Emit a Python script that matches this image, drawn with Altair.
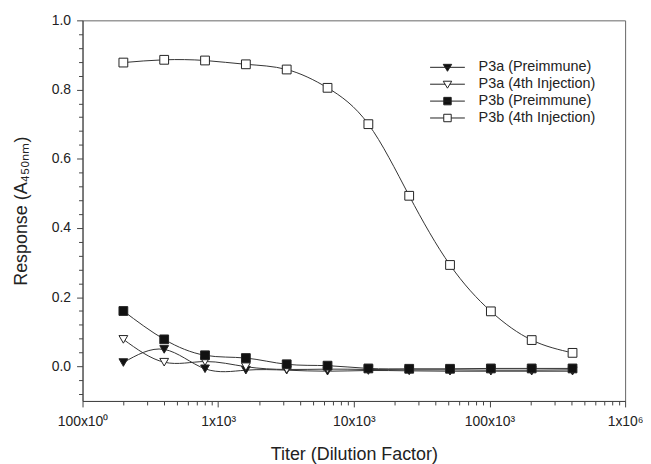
import altair as alt
import pandas as pd

# ---- data ----
titers = [200, 400, 800, 1600, 3200, 6400, 12800, 25600, 51200, 102400, 204800, 409600]
series_names = ["P3a (Preimmune)", "P3a (4th Injection)", "P3b (Preimmune)", "P3b (4th Injection)"]
p3a_pre = [0.011, 0.049, -0.007, -0.011, -0.011, -0.014, -0.012, -0.013, -0.014, -0.014, -0.014, -0.014]
p3a_4th = [0.078, 0.012, 0.014, -0.001, -0.009, -0.008, -0.009, -0.010, -0.010, -0.011, -0.011, -0.010]
p3b_pre = [0.160, 0.078, 0.032, 0.024, 0.006, 0.002, -0.006, -0.007, -0.007, -0.006, -0.006, -0.006]
p3b_4th = [0.878, 0.886, 0.884, 0.873, 0.858, 0.805, 0.700, 0.493, 0.293, 0.159, 0.076, 0.039]

decades = [100, 1000, 10000, 100000, 1000000]
decade_labels = ["100x10\u2070", "1x10\u00b3", "10x10\u00b3", "100x10\u00b3", "1x10\u2076"]
x_minor_mult = [1, 2, 3, 4, 5, 6, 7, 8, 9]
y_ticks = [round(-0.08 + 0.04 * i, 2) for i in range(28)]

rows = []
for name, vals in zip(series_names, [p3a_pre, p3a_4th, p3b_pre, p3b_4th]):
    for t, v in zip(titers, vals):
        rows.append({"titer": t, "response": v, "series": name})
df = pd.DataFrame(rows)

x_tick_values = [d * m for d in decades[:-1] for m in x_minor_mult] + [decades[-1]]
x_label_expr = "".join(f"datum.value == {d} ? '{l}' : " for d, l in zip(decades, decade_labels)) + "''"
x_major_test = "abs(log(datum.value)/LN10 - round(log(datum.value)/LN10)) < 0.001"
y_major_test = "abs(datum.value*5 - round(datum.value*5)) < 0.001"

FONT = "Liberation Sans"
TXT = "#222222"
AX = "#444444"

x_axis = alt.Axis(
    title="Titer (Dilution Factor)",
    values=x_tick_values,
    labelExpr=x_label_expr,
    labelOverlap=False,
    labelFlush=False,
    labelFontSize=14,
    labelPadding=8,
    tickSize={"condition": {"test": x_major_test, "value": 6}, "value": 4},
    titleFontSize=18,
    titleFontWeight="normal",
    titleBaseline="alphabetic",
    titleY=59,
    grid=False,
)
y_axis = alt.Axis(
    title="Response (A\u2084\u2085\u2080\u2099\u2098)",
    values=y_ticks,
    labelExpr=f"{y_major_test} ? format(datum.value, '.1f') : ''",
    labelOverlap=False,
    labelFlush=False,
    labelFontSize=14,
    labelPadding=6,
    tickSize={"condition": {"test": y_major_test, "value": 6}, "value": 4},
    titleFontSize=18,
    titleFontWeight="normal",
    titleAngle=270,
    titleAlign="center",
    titleBaseline="middle",
    titleX=-61,
    titleY=191.5,
    grid=False,
)

x_enc = alt.X("titer:Q", scale=alt.Scale(type="log", domain=[100, 1000000], nice=False), axis=x_axis)
y_enc = alt.Y("response:Q", scale=alt.Scale(domain=[-0.1, 1.0], nice=False, zero=False), axis=y_axis)

plot_shapes = ["triangle-down", "triangle-down", "square", "square"]
fills = ["#111111", "white", "#111111", "white"]
strokes = ["#222222", "#222222", "#222222", "#222222"]
legend_shapes = [
    "M-3.5,0H3.5M-0.85,-0.6L0.85,-0.6L0,0.8Z",
    "M-3.5,0H-0.45M0.45,0H3.5M-0.85,-0.6L0.85,-0.6L0,0.8Z",
    "M-3.5,0H3.5M-0.75,-0.75H0.75V0.75H-0.75Z",
    "M-3.5,0H-0.75M0.75,0H3.5M-0.75,-0.75H0.75V0.75H-0.75Z",
]

base = alt.Chart(df)

lines = base.mark_line(interpolate="natural", strokeWidth=1, color="#333333").encode(
    x=x_enc, y=y_enc, detail="series:N"
)

points = base.mark_point(filled=True, size=78, opacity=1, stroke="#222222", strokeWidth=1).encode(
    x=x_enc,
    y=y_enc,
    shape=alt.Shape("series:N", scale=alt.Scale(domain=series_names, range=plot_shapes), legend=None),
    fill=alt.Fill("series:N", scale=alt.Scale(domain=series_names, range=fills), legend=None),
)

leg = alt.Legend(
    title=None,
    orient="none",
    legendX=360,
    legendY=40,
    padding=0,
    symbolSize=100,
    symbolStrokeWidth=1,
    symbolOpacity=1,
    labelOffset=24,
    labelFontSize=14.5,
    labelFont=FONT,
    labelColor=TXT,
    rowPadding=2,
)

legend_layer = base.transform_filter("false").mark_point(
    filled=True, size=100, opacity=1, strokeWidth=1
).encode(
    x=x_enc,
    y=y_enc,
    shape=alt.Shape("series:N", scale=alt.Scale(domain=series_names, range=legend_shapes), legend=leg),
    fill=alt.Fill("series:N", scale=alt.Scale(domain=series_names, range=fills), legend=leg),
    stroke=alt.Stroke("series:N", scale=alt.Scale(domain=series_names, range=strokes), legend=leg),
)

chart = (
    alt.layer(lines, points, legend_layer)
    .resolve_scale(shape="independent", fill="independent", stroke="independent")
    .properties(
        width=546,
        height=383,
        autosize="none",
        padding={"left": 75, "top": 11, "right": 18, "bottom": 62},
        background="white",
    )
    .configure_view(stroke="#666666", strokeWidth=1)
    .configure_axis(
        domainColor=AX,
        tickColor=AX,
        labelFont=FONT,
        titleFont=FONT,
        labelColor=TXT,
        titleColor=TXT,
    )
    .configure_legend(labelFontSize=14.5, labelFont=FONT, labelColor=TXT, labelLimit=300)
)

chart.save("out.html", embed_options={"renderer": "svg", "actions": False})
